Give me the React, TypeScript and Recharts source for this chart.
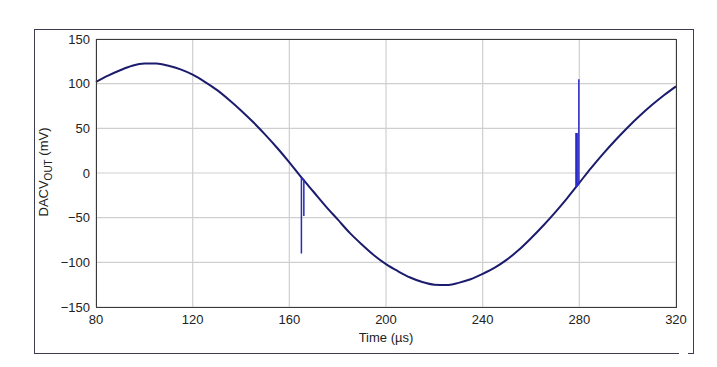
import { CartesianGrid, Line, LineChart, XAxis, YAxis } from "recharts";

// DAC output waveform (µs, mV)
const times = [
  80, 85, 90, 95, 100, 105, 110, 115, 120, 125, 130, 135, 140, 145, 150, 155, 160, 165,
  170, 175, 180, 185, 190, 195, 200, 205, 210, 215, 220, 225, 230, 235, 240, 245, 250,
  255, 260, 265, 270, 275, 280, 285, 290, 295, 300, 305, 310, 315, 320,
];
const millivolts = [
  102, 109, 115, 120, 122.5, 122.5, 120, 116, 110, 102, 93, 82, 70, 57, 43, 28, 12, -5,
  -21, -37, -52, -67, -80, -92, -102, -110, -117, -122, -125, -125.5, -123, -119, -113, -106, -97,
  -86, -73, -59, -44, -28, -11, 6, 22, 37, 51, 64, 76, 87, 97,
];

// glitches at the code transitions
const glitchATimes = [165, 165, 165, 166, 166, 166];
const glitchAValues = [-5, -90, -6, -8, -48, -8];
const glitchBTimes = [278.6, 278.6, 279.1, 279.1, 279.8, 279.8, 279.8];
const glitchBValues = [-16, 44, 44, -14, -12, 105, -11];

const xTicks = [80, 120, 160, 200, 240, 280, 320];
const yTicks = [-150, -100, -50, 0, 50, 100, 150];

const curve = times.map((t, i) => ({ t, v: millivolts[i] }));
const glitchA = glitchATimes.map((t, i) => ({ t, v: glitchAValues[i] }));
const glitchB = glitchBTimes.map((t, i) => ({ t, v: glitchBValues[i] }));

const fmt = (n: number) => (n < 0 ? "\u2212" + Math.abs(n) : String(n));

function YLabel() {
  return (
    <text
      x={0}
      y={0}
      transform="translate(48,172) rotate(-90)"
      textAnchor="middle"
      fontSize={13}
      fill="#222"
      fontFamily="Liberation Sans, Arial, sans-serif"
    >
      DACV
      <tspan fontSize={10} dy={4}>OUT</tspan>
      <tspan dy={-4}> (mV)</tspan>
    </text>
  );
}

export default function App() {
  return (
    <div style={{ position: "absolute", left: 0, top: 0, width: 717, height: 367, background: "#fff" }}>
      <div
        style={{
          position: "absolute", left: 34, top: 29, width: 660, height: 325,
          border: "1.5px solid #3c3c52", boxSizing: "border-box",
        }}
      />
      <div style={{ position: "absolute", left: 679, top: 351, width: 9, height: 6, background: "#fff" }} />
      <LineChart
        width={717}
        height={367}
        margin={{ top: 39, right: 41, bottom: 30, left: 36 }}
        style={{ position: "absolute", left: 0, top: 0, fontFamily: "Liberation Sans, Arial, sans-serif" }}
      >
        <CartesianGrid stroke="#cfcfcf" strokeWidth={1.2} />
        <XAxis
          dataKey="t"
          type="number"
          domain={[80, 320]}
          ticks={xTicks}
          allowDuplicatedCategory={false}
          tickLine={false}
          axisLine={false}
          height={30}
          tick={{ fill: "#222", fontSize: 13 }}
          label={{ value: "Time (\u00b5s)", position: "insideBottom", offset: -5, fill: "#222", fontSize: 13 }}
        />
        <YAxis
          dataKey="v"
          type="number"
          domain={[-150, 150]}
          ticks={yTicks}
          tickFormatter={fmt}
          tickLine={false}
          axisLine={false}
          tickSize={4}
          width={60}
          tick={{ fill: "#222", fontSize: 13 }}
          label={<YLabel />}
        />
        <Line data={curve} dataKey="v" type="monotone" stroke="#1c1c6e" strokeWidth={2} dot={false} isAnimationActive={false} />
        <Line data={glitchA} dataKey="v" type="linear" stroke="#2a2ab8" strokeWidth={1.5} dot={false} isAnimationActive={false} />
        <Line data={glitchB} dataKey="v" type="linear" stroke="#2a2ac8" strokeWidth={1.5} dot={false} isAnimationActive={false} />
      </LineChart>
      <div
        style={{
          position: "absolute", left: 96, top: 39, width: 581, height: 269,
          border: "1.5px solid #3a3a3a", boxSizing: "border-box", pointerEvents: "none",
        }}
      />
    </div>
  );
}
